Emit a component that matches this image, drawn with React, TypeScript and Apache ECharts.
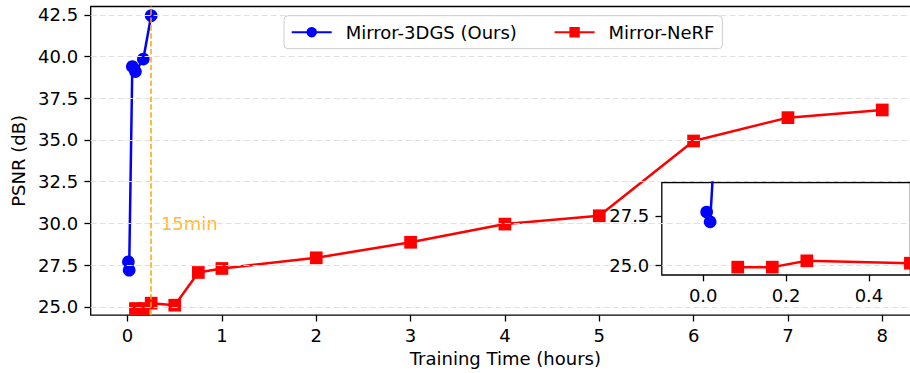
import React, { useEffect, useRef } from 'react';
import * as echarts from 'echarts';

// ---- data ----
const gsName = 'Mirror-3DGS (Ours)';
const nerfName = 'Mirror-NeRF';
const gsTime = [0.0083, 0.0167, 0.05, 0.0833, 0.1667, 0.25];
const gsPsnr = [27.7, 27.2, 39.4, 39.1, 39.85, 42.45];
const nerfTime = [0.0833, 0.1667, 0.25, 0.5, 0.75, 1, 2, 3, 4, 5, 6, 7, 8];
const nerfPsnr = [24.9, 24.9, 25.22, 25.1, 27.06, 27.3, 27.94, 28.87, 29.96, 30.46, 34.94, 36.34, 36.8];
const yTicks = [25, 27.5, 30, 32.5, 35, 37.5, 40, 42.5];
const xTicks = [0, 1, 2, 3, 4, 5, 6, 7, 8];
const insetXTicks = [0, 0.2, 0.4];
const insetYTicks = [25, 27.5];
const markTime = 0.25;
const markLabel = '15min';
const markLabelPos = [0.353, 30.0];

const FONT = 'DejaVu Sans';

export default function App() {
  const ref = useRef<HTMLDivElement>(null);
  useEffect(() => {
    if (!ref.current) return;
    const chart = echarts.init(ref.current, undefined, { renderer: 'svg' });
    const gsData = gsTime.map((t, i) => [t, gsPsnr[i]]);
    const nerfData = nerfTime.map((t, i) => [t, nerfPsnr[i]]);
    const labelStyle = { fontSize: 18, color: '#000', fontFamily: FONT };
    const tickStyle = { show: true, length: 6.3, lineStyle: { color: '#000', width: 1.3 } };
    const noLine = { show: false, onZero: false };
    const option: any = {
      animation: false,
      backgroundColor: '#fff',
      textStyle: { fontFamily: FONT },
      grid: [
        {
          left: 90.7, top: 6.5, width: 829.3, height: 308.7,
          show: true, borderColor: '#000', borderWidth: 1.3, backgroundColor: 'transparent', z: 0,
        },
        {
          left: 661.8, top: 182.5, width: 248.6, height: 92.5,
          show: true, borderColor: '#000', borderWidth: 1.3, backgroundColor: '#fff', z: 4,
        },
      ],
      xAxis: [
        {
          type: 'value', gridIndex: 0, min: -0.391, max: 8.4,
          axisLine: noLine,
          axisTick: { ...tickStyle, customValues: xTicks },
          axisLabel: { ...labelStyle, margin: 11.5, customValues: xTicks, formatter: (v: number) => String(v) },
          splitLine: { show: false },
          name: 'Training Time (hours)', nameLocation: 'middle', nameGap: 33,
          nameTextStyle: { ...labelStyle },
        },
        {
          type: 'value', gridIndex: 1, min: -0.1, max: 0.5, z: 5,
          axisLine: noLine,
          axisTick: { ...tickStyle, customValues: insetXTicks },
          axisLabel: { ...labelStyle, margin: 11.5, customValues: insetXTicks, formatter: (v: number) => v.toFixed(1) },
          splitLine: { show: false },
        },
      ],
      yAxis: [
        {
          type: 'value', gridIndex: 0, min: 24.5, max: 43,
          axisLine: noLine,
          axisTick: { ...tickStyle, customValues: yTicks },
          axisLabel: { ...labelStyle, margin: 12.5, customValues: yTicks, formatter: (v: number) => v.toFixed(1) },
          splitLine: { show: false },
          name: 'PSNR (dB)', nameLocation: 'middle', nameGap: 62, nameRotate: 90,
          nameTextStyle: { ...labelStyle },
        },
        {
          type: 'value', gridIndex: 1, min: 24.5, max: 29.2, z: 5,
          axisLine: noLine,
          axisTick: { ...tickStyle, customValues: insetYTicks },
          axisLabel: { ...labelStyle, margin: 12.5, customValues: insetYTicks, formatter: (v: number) => v.toFixed(1) },
          splitLine: { show: false },
        },
      ],
      legend: {
        data: [gsName, nerfName],
        left: 284, top: 15.7,
        orient: 'horizontal',
        itemWidth: 40, itemHeight: 13, itemGap: 36.7,
        padding: [7.5, 8, 7.5, 6.7],
        borderColor: '#cccccc', borderWidth: 1, borderRadius: 4,
        backgroundColor: 'rgba(255,255,255,0.8)',
        textStyle: { fontSize: 18, color: '#000', fontFamily: FONT, padding: [0, 0, 0, 9] },
        z: 6,
      },
      series: [
        {
          name: '_grid', type: 'line', xAxisIndex: 0, yAxisIndex: 0, data: [], z: 1, silent: true,
          markLine: {
            silent: true, symbol: ['none', 'none'], label: { show: false },
            lineStyle: { color: '#e0e0e0', width: 1, type: [6, 3] },
            data: yTicks.map((v) => ({ yAxis: v })),
          },
        },
        {
          name: gsName, type: 'line', xAxisIndex: 0, yAxisIndex: 0, data: gsData, z: 2,
          symbol: 'circle', symbolSize: 12.7,
          lineStyle: { color: '#0000ff', width: 2.5 }, itemStyle: { color: '#0000ff' },
        },
        {
          name: nerfName, type: 'line', xAxisIndex: 0, yAxisIndex: 0, data: nerfData, z: 2,
          symbol: 'rect', symbolSize: 12.7,
          lineStyle: { color: '#ff0000', width: 2.5 }, itemStyle: { color: '#ff0000' },
        },
        {
          name: '_vline', type: 'line', xAxisIndex: 0, yAxisIndex: 0, data: [], z: 3, silent: true,
          markLine: {
            silent: true, symbol: ['none', 'none'], label: { show: false },
            lineStyle: { color: '#ffa500', width: 1.5, type: [5.5, 2.4] },
            data: [{ xAxis: markTime }],
          },
        },
        {
          name: '_label', type: 'scatter', xAxisIndex: 0, yAxisIndex: 0, z: 3, silent: true,
          data: [markLabelPos], symbolSize: 0,
          label: { show: true, position: 'right', distance: 0, formatter: markLabel, fontSize: 18, color: '#ffa500', fontFamily: FONT },
        },
        {
          name: gsName, type: 'line', xAxisIndex: 1, yAxisIndex: 1, data: gsData, z: 5, clip: true,
          symbol: 'circle', symbolSize: 12.7,
          lineStyle: { color: '#0000ff', width: 2.5 }, itemStyle: { color: '#0000ff' },
        },
        {
          name: nerfName, type: 'line', xAxisIndex: 1, yAxisIndex: 1, data: nerfData, z: 5, clip: true,
          symbol: 'rect', symbolSize: 12.7,
          lineStyle: { color: '#ff0000', width: 2.5 }, itemStyle: { color: '#ff0000' },
        },
      ],
    };
    chart.setOption(option);
    return () => chart.dispose();
  }, []);
  return (
    <div style={{ position: 'fixed', left: 0, top: 0, width: 910, height: 373, overflow: 'hidden', background: '#fff' }}>
      <div ref={ref} style={{ width: 921, height: 373 }} />
    </div>
  );
}
